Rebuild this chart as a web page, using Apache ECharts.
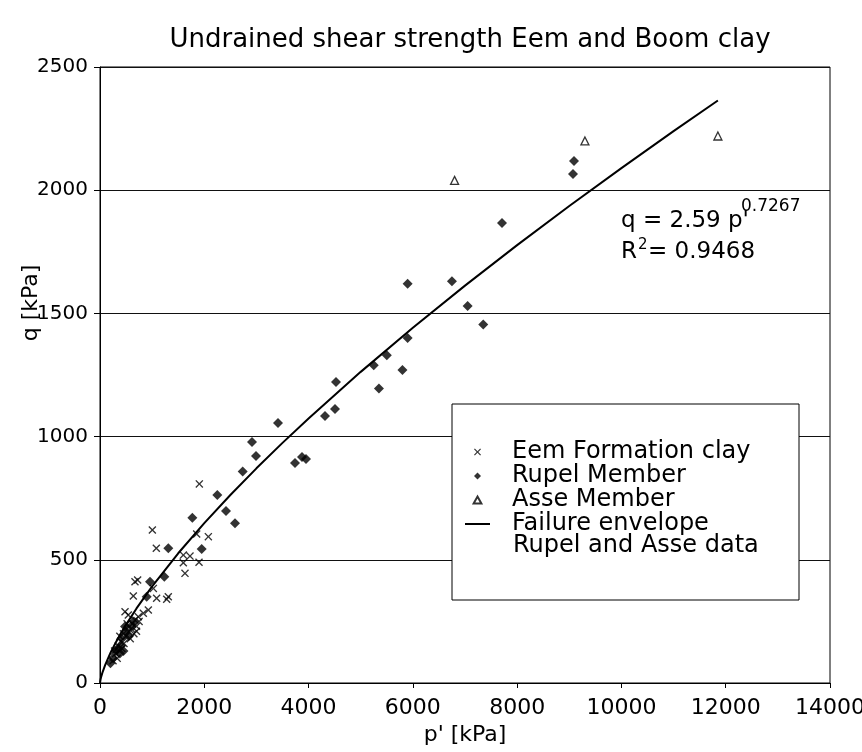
<!DOCTYPE html>
<html>
<head>
<meta charset="utf-8">
<script src="https://cdn.jsdelivr.net/npm/echarts@6/dist/echarts.min.js"></script>
<style>html,body{margin:0;padding:0;background:#fff}#c{width:862px;height:752px}</style>
</head>
<body>
<div id="c"></div>
<script>
// ---- data (p' [kPa], q [kPa]) ----
const eemData = [
  [1905, 808], [1004, 621], [1080, 547], [1854, 605], [2078, 594],
  [1598, 519], [1726, 515], [1899, 490], [1630, 445], [1598, 488],
  [722, 418], [671, 411], [1023, 384], [639, 353], [1086, 344],
  [1279, 340], [1310, 350], [480, 289], [543, 276], [927, 296],
  [831, 283], [735, 269], [671, 256],
  [300, 120], [350, 150], [400, 170], [420, 140], [450, 200], [500, 190],
  [550, 210], [600, 220], [620, 240], [650, 200], [700, 230], [750, 250],
  [380, 190], [330, 100], [250, 90], [280, 130], [460, 160], [520, 240],
  [580, 180], [700, 210]
];
const rupelData = [
  [9091, 2118], [9071, 2066], [7710, 1867],
  [5900, 1620], [6750, 1630], [7050, 1530], [7350, 1455], [5900, 1400],
  [5800, 1270], [5500, 1330], [5250, 1290], [5350, 1195],
  [4526, 1222], [4507, 1112], [4315, 1084], [3414, 1055],
  [2915, 978], [2992, 921], [3740, 893], [3874, 917], [3951, 909],
  [2736, 858], [2250, 763], [2416, 698], [2589, 648], [1771, 671],
  [1310, 547], [1950, 544], [1233, 431], [959, 411], [895, 350], [480, 229],
  [250, 100], [300, 130], [350, 140], [400, 150], [420, 180], [450, 130],
  [500, 210], [550, 190], [600, 230], [650, 250], [200, 80], [380, 120]
];
const asseData = [
  [6800, 2040], [9300, 2200], [11850, 2220]
];
// failure envelope q = 2.59 p'^0.7267 (values tabulated)
const envP = [0, 10, 25, 50, 100, 200, 300, 400, 500, 700, 1000, 1500, 2000, 2500, 3000, 3500, 4000, 5000, 6000, 7000, 8000, 9000, 10000, 11000, 11850];
const envQ = [0, 13.8, 26.9, 44.5, 73.6, 121.7, 163.5, 201.5, 236.9, 302.6, 392.1, 526.5, 648.8, 763.1, 871.2, 974.5, 1073.8, 1262.7, 1441.6, 1612.7, 1777.0, 1935.7, 2089.7, 2239.6, 2364];
const xTicks = [0, 2000, 4000, 6000, 8000, 10000, 12000, 14000];
const yTicks = [0, 500, 1000, 1500, 2000, 2500];

const FONT = 'DejaVu Sans';
const crossPath = 'path://M0,1.2 L1.2,0 L5,3.8 L8.8,0 L10,1.2 L6.2,5 L10,8.8 L8.8,10 L5,6.2 L1.2,10 L0,8.8 L3.8,5 Z';
const diamondPath = 'path://M5,0 L10,5 L5,10 L0,5 Z';
const trianglePath = 'path://M5,0 L10,9 L0,9 Z';
const linePath = 'path://M0,0 L25,0 L25,2 L0,2 Z';

const chart = echarts.init(document.getElementById('c'), null, {renderer: 'canvas'});
const envData = envP.map((p, i) => [p, envQ[i]]);

chart.setOption({
  animation: false,
  backgroundColor: '#fff',
  textStyle: {fontFamily: FONT, color: '#000'},
  title: {
    text: 'Undrained shear strength Eem and Boom clay',
    left: 465, top: 22, textAlign: 'center',
    textStyle: {fontFamily: FONT, fontSize: 26, fontWeight: 'normal', color: '#000'}
  },
  grid: {left: 100, right: 32, top: 67, bottom: 69, containLabel: false, outerBoundsMode: 'none',
         show: true, borderColor: '#000', borderWidth: 1, backgroundColor: 'transparent'},
  xAxis: {
    type: 'value', min: xTicks[0], max: xTicks[xTicks.length - 1], interval: 2000,
    name: "p' [kPa]", nameLocation: 'middle', nameGap: 41, nameMoveOverlap: false,
    nameTextStyle: {fontFamily: FONT, fontSize: 22, color: '#000'},
    axisLine: {show: true, lineStyle: {color: '#000', width: 1}},
    axisTick: {show: true, length: 5, lineStyle: {color: '#000'}},
    axisLabel: {fontFamily: FONT, fontSize: 22, color: '#000', margin: 14, formatter: v => String(v)},
    splitLine: {show: false}
  },
  yAxis: {
    type: 'value', min: yTicks[0], max: yTicks[yTicks.length - 1], interval: 500,
    name: 'q [kPa]', nameLocation: 'middle', nameGap: 58, nameRotate: 90, nameMoveOverlap: false,
    nameTextStyle: {fontFamily: FONT, fontSize: 22, color: '#000', padding: [0, 0, 0, 144]},
    axisLine: {show: true, lineStyle: {color: '#000', width: 1}},
    axisTick: {show: true, length: 6, lineStyle: {color: '#000'}},
    axisLabel: {fontFamily: FONT, fontSize: 20, color: '#000', margin: 12, formatter: v => String(v)},
    splitLine: {show: true, lineStyle: {color: '#111', width: 1}}
  },
  legend: {
    orient: 'vertical', left: 465, top: 440, padding: 0,
    itemWidth: 25, itemHeight: 7, itemGap: 0, selectedMode: false,
    textStyle: {fontFamily: FONT, fontSize: 24, lineHeight: 23.3, color: '#000', padding: [0, 0, 0, 17]},
    data: [
      {name: 'Eem Formation clay', icon: crossPath},
      {name: 'Rupel Member', icon: diamondPath},
      {name: 'Asse Member', icon: trianglePath},
      {name: 'Failure envelope', icon: linePath}
    ]
  },
  graphic: [
    {type: 'rect', z: 3, shape: {x: 452, y: 404, width: 347, height: 196},
     style: {fill: '#fff', stroke: '#000', lineWidth: 1}},
    {type: 'text', z: 5, x: 513, y: 546,
     style: {text: 'Rupel and Asse data', font: '24px "DejaVu Sans"', fill: '#000', verticalAlign: 'middle'}},
    {type: 'text', z: 5, x: 621, y: 233,
     style: {text: "q = 2.59 p'", font: '23px "DejaVu Sans"', fill: '#000', verticalAlign: 'bottom'}},
    {type: 'text', z: 5, x: 741, y: 215,
     style: {text: '0.7267', font: '17px "DejaVu Sans"', fill: '#000', verticalAlign: 'bottom'}},
    {type: 'text', z: 5, x: 621, y: 264,
     style: {text: 'R', font: '23px "DejaVu Sans"', fill: '#000', verticalAlign: 'bottom'}},
    {type: 'text', z: 5, x: 638, y: 253,
     style: {text: '2', font: '15px "DejaVu Sans"', fill: '#000', verticalAlign: 'bottom'}},
    {type: 'text', z: 5, x: 648, y: 264,
     style: {text: '= 0.9468', font: '23px "DejaVu Sans"', fill: '#000', verticalAlign: 'bottom'}}
  ],
  series: [
    {name: 'Eem Formation clay', type: 'scatter', data: eemData, symbol: crossPath, symbolSize: 8,
     itemStyle: {color: '#000'}, z: 2},
    {name: 'Rupel Member', type: 'scatter', data: rupelData, symbol: 'diamond', symbolSize: 10,
     itemStyle: {color: '#000'}, z: 2},
    {name: 'Asse Member', type: 'scatter', data: asseData, symbol: 'triangle', symbolSize: 8,
     itemStyle: {color: '#fff', borderColor: '#000', borderWidth: 1.3}, z: 2},
    {name: 'Failure envelope', type: 'line', data: envData, showSymbol: false, symbol: 'none',
     lineStyle: {color: '#000', width: 2}, itemStyle: {color: '#000'}, z: 2}
  ]
});
</script>
</body>
</html>
